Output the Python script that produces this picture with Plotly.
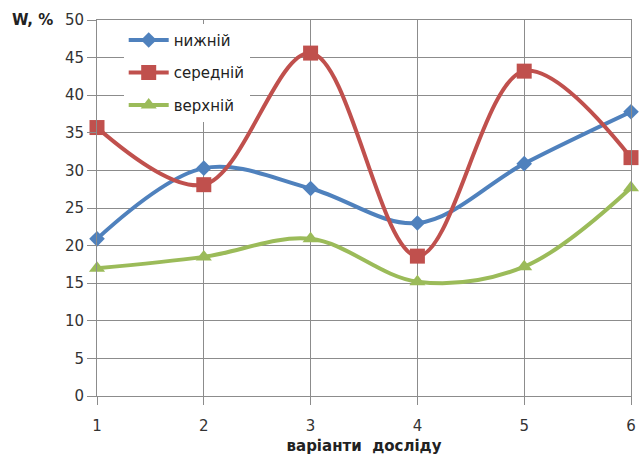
import plotly.graph_objects as go

variants = [1, 2, 3, 4, 5, 6]
nyzhnii = [20.9, 30.3, 27.6, 23.0, 30.9, 37.8]
serednii = [35.7, 28.1, 45.6, 18.6, 43.2, 31.7]
verkhnii = [17.0, 18.5, 20.9, 15.2, 17.2, 27.7]
y_ticks = [0, 5, 10, 15, 20, 25, 30, 35, 40, 45, 50]

fig = go.Figure()
series = [
    ("нижній", nyzhnii, "#4F81BD", "diamond", 12),
    ("середній", serednii, "#C0504D", "square", 15),
    ("верхній", verkhnii, "#9BBB59", "triangle-up", 14),
]
for name, vals, color, sym, size in series:
    fig.add_trace(go.Scatter(
        x=variants, y=vals, name=name, mode="lines+markers", legendgroup=name,
        line=dict(color=color, width=4, shape="spline", smoothing=1.0),
        marker=dict(symbol=sym, size=size, color=color),
        cliponaxis=False,
    ))

fig.update_layout(
    width=641, height=470,
    margin=dict(l=97, r=5, t=20, b=74),
    paper_bgcolor="white", plot_bgcolor="white",
    font=dict(family="DejaVu Sans", size=15, color="#333333"),
    showlegend=True,
    legend=dict(x=0.05, y=0.99, xanchor="left", yanchor="top",
                bgcolor="white", font=dict(size=15, color="#222222"),
                itemwidth=40, tracegroupgap=10),
    xaxis=dict(range=[1, 6], tickvals=variants, showgrid=True,
               gridcolor="#8c8c8c", gridwidth=1, zeroline=False,
               showline=True, linecolor="#8c8c8c", mirror=True,
               ticks="outside", ticklen=8, tickcolor="#8c8c8c",
               ticklabelstandoff=8,
               tickfont=dict(size=15, color="#333333"),
               title=dict(text="<b>варіанти  досліду</b>", font=dict(size=15, color="#222222"), standoff=6)),
    yaxis=dict(range=[0, 50], tickvals=y_ticks, showgrid=True,
               gridcolor="#8c8c8c", gridwidth=1, zeroline=False,
               showline=True, linecolor="#8c8c8c", mirror=True,
               ticks="outside", ticklen=9, tickcolor="#8c8c8c",
               tickfont=dict(size=15, color="#333333")),
)
fig.add_annotation(text="<b>W, %</b>", xref="paper", yref="paper", x=-0.163, y=1.0,
                   xanchor="left", yanchor="middle", showarrow=False,
                   font=dict(size=15, color="#222222"))

fig.write_html("out.html")
